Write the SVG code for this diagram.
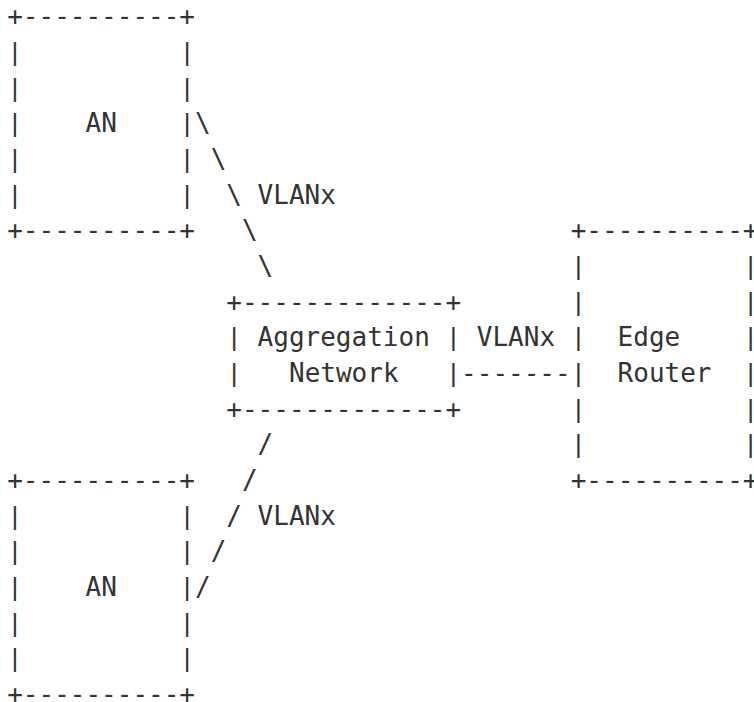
<svg xmlns="http://www.w3.org/2000/svg" width="754" height="702" viewBox="0 0 754 702">
  <style>
    text { font-family: "DejaVu Sans Mono", "Liberation Mono", monospace; font-size: 26px; fill: #333; white-space: pre; }
    text.bar { font-family: "Liberation Sans", Arial, sans-serif; text-anchor: middle; }
  </style>
  <rect width="754" height="702" fill="#fff"/>

  <!-- Access node, upper -->
  <g id="an-top">
    <text x="7.2" y="25.4">+----------+</text>
    <text x="85.5" y="132.4">AN</text>
    <text class="bar" x="15" y="61.1">|</text><text class="bar" x="187.2" y="61.1">|</text>
    <text class="bar" x="15" y="96.7">|</text><text class="bar" x="187.2" y="96.7">|</text>
    <text class="bar" x="15" y="132.4">|</text><text class="bar" x="187.2" y="132.4">|</text>
    <text class="bar" x="15" y="168.0">|</text><text class="bar" x="187.2" y="168.0">|</text>
    <text class="bar" x="15" y="203.7">|</text><text class="bar" x="187.2" y="203.7">|</text>
    <text x="7.2" y="239.3">+----------+</text>
  </g>

  <!-- Aggregation network -->
  <g id="aggregation">
    <text x="226.3" y="310.6">+-------------+</text>
    <text class="bar" x="234.1" y="346.3">|</text><text class="bar" x="453.3" y="346.3">|</text>
    <text x="257.6" y="346.3">Aggregation</text>
    <text class="bar" x="234.1" y="381.9">|</text><text class="bar" x="453.3" y="381.9">|</text>
    <text x="289.0" y="381.9">Network</text>
    <text x="226.3" y="417.6">+-------------+</text>
  </g>

  <!-- Edge router -->
  <g id="edge-router">
    <text x="570.7" y="239.3">+----------+</text>
    <text class="bar" x="578.5" y="275.0">|</text><text class="bar" x="750.6" y="275.0">|</text>
    <text class="bar" x="578.5" y="310.6">|</text><text class="bar" x="750.6" y="310.6">|</text>
    <text class="bar" x="578.5" y="346.3">|</text><text class="bar" x="750.6" y="346.3">|</text>
    <text x="617.6" y="346.3">Edge</text>
    <text class="bar" x="578.5" y="381.9">|</text><text class="bar" x="750.6" y="381.9">|</text>
    <text x="617.6" y="381.9">Router</text>
    <text class="bar" x="578.5" y="417.6">|</text><text class="bar" x="750.6" y="417.6">|</text>
    <text class="bar" x="578.5" y="453.2">|</text><text class="bar" x="750.6" y="453.2">|</text>
    <text x="570.7" y="488.9">+----------+</text>
  </g>

  <!-- Access node, lower -->
  <g id="an-bottom">
    <text x="7.2" y="488.9">+----------+</text>
    <text class="bar" x="15" y="524.5">|</text><text class="bar" x="187.2" y="524.5">|</text>
    <text class="bar" x="15" y="560.2">|</text><text class="bar" x="187.2" y="560.2">|</text>
    <text class="bar" x="15" y="595.8">|</text><text class="bar" x="187.2" y="595.8">|</text>
    <text x="85.5" y="595.8">AN</text>
    <text class="bar" x="15" y="631.5">|</text><text class="bar" x="187.2" y="631.5">|</text>
    <text class="bar" x="15" y="667.1">|</text><text class="bar" x="187.2" y="667.1">|</text>
    <text x="7.2" y="702.8">+----------+</text>
  </g>

  <!-- VLAN links -->
  <g id="connectors">
    <text x="195.0" y="132.4">\</text>
    <text x="210.7" y="168.0">\</text>
    <text x="226.3" y="203.7">\</text>
    <text x="257.6" y="203.7">VLANx</text>
    <text x="242.0" y="239.3">\</text>
    <text x="257.6" y="275.0">\</text>

    <text x="476.8" y="346.3">VLANx</text>
    <text x="461.1" y="381.9">-------</text>

    <text x="257.6" y="453.2">/</text>
    <text x="242.0" y="488.9">/</text>
    <text x="226.3" y="524.5">/</text>
    <text x="257.6" y="524.5">VLANx</text>
    <text x="210.7" y="560.2">/</text>
    <text x="195.0" y="595.8">/</text>
  </g>
</svg>
